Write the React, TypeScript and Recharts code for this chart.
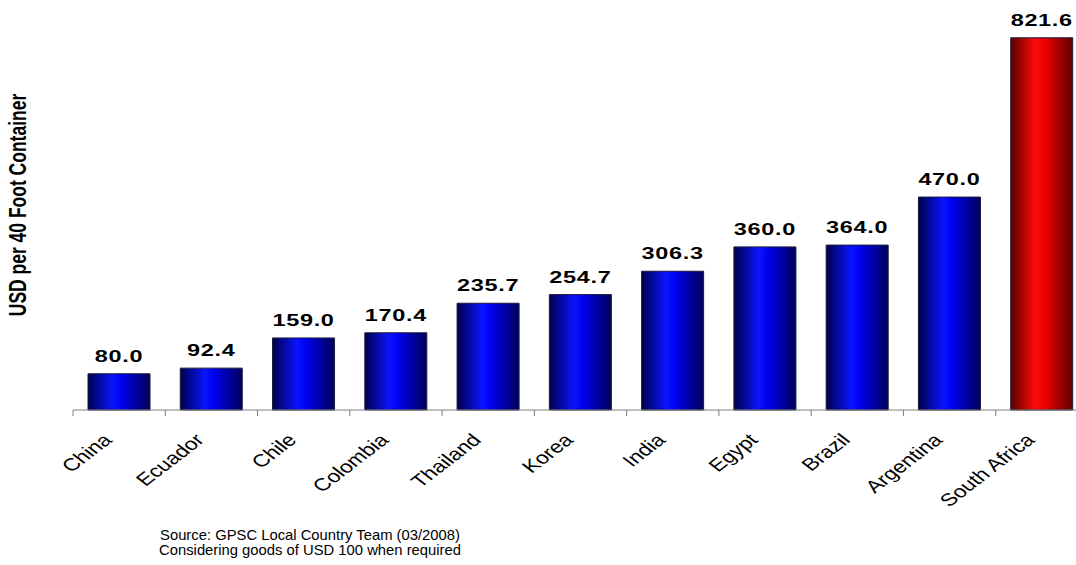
import { BarChart, Bar, XAxis, YAxis, Cell, LabelList } from 'recharts'

const countries = ['China', 'Ecuador', 'Chile', 'Colombia', 'Thailand', 'Korea', 'India', 'Egypt', 'Brazil', 'Argentina', 'South Africa']
const costs = [80.0, 92.4, 159.0, 170.4, 235.7, 254.7, 306.3, 360.0, 364.0, 470.0, 821.6]
const yTitle = 'USD per 40 Foot Container'
const sourceLines = ['Source: GPSC Local Country Team (03/2008)', 'Considering goods of USD 100 when required']
const highlighted = 'South Africa'

const data = countries.map((c, i) => ({ country: c, cost: costs[i] }))

// the original picture is stretched sideways, text too
const STRETCH = 1.38
const TICK_STRETCH = 1.3
const FONT = 'Arial, "Liberation Sans", Helvetica, sans-serif'

const CountryTick = (props: any) => {
  const { x, y, payload } = props
  const half = payload?.offset ?? 46
  return (
    <g>
      <line x1={x - half} x2={x - half} y1={y} y2={y + 6} stroke="#7f7f7f" />
      <text
        transform={`translate(${x - 6},${y + 31}) scale(${TICK_STRETCH},1) rotate(-45)`}
        textAnchor="end"
        fontFamily={FONT}
        fontSize={17.5}
        fill="#000"
      >
        {payload.value}
      </text>
    </g>
  )
}

const ValueLabel = (props: any) => {
  const { x, y, width, value } = props
  const cx = Number(x) + Number(width) / 2
  return (
    <text
      transform={`translate(${cx},${Number(y) - 12}) scale(${STRETCH},1)`}
      textAnchor="middle"
      fontFamily={FONT}
      fontSize={17}
      fontWeight="bold"
      letterSpacing={0.5}
      fill="#000"
    >
      {Number(value).toFixed(1)}
    </text>
  )
}

export default function App() {
  return (
    <div style={{ position: 'absolute', left: 0, top: 0, width: 1076, height: 565, overflow: 'hidden', background: '#fff' }}>
      <BarChart width={1100} height={565} data={data} margin={{ top: 0, right: 12, left: 73, bottom: 0 }}>
        <defs>
          <linearGradient id="blueBar" x1="0" y1="0" x2="1" y2="0">
            <stop offset="0%" stopColor="#00004c" />
            <stop offset="40%" stopColor="#0a14ff" />
            <stop offset="55%" stopColor="#0000ee" />
            <stop offset="100%" stopColor="#000058" />
          </linearGradient>
          <linearGradient id="redBar" x1="0" y1="0" x2="1" y2="0">
            <stop offset="0%" stopColor="#580000" />
            <stop offset="40%" stopColor="#ff0a0a" />
            <stop offset="55%" stopColor="#ee0000" />
            <stop offset="100%" stopColor="#5c0000" />
          </linearGradient>
        </defs>
        <XAxis
          dataKey="country"
          height={155}
          interval={0}
          tickSize={0}
          tickMargin={0}
          tickLine={false}
          axisLine={{ stroke: '#7f7f7f' }}
          tick={<CountryTick />}
        />
        <YAxis hide width={0} domain={[0, 905]} />
        <Bar dataKey="cost" barSize={62} stroke="#1a1a3a" strokeWidth={1} isAnimationActive={false}>
          {data.map(d => (
            <Cell key={d.country} fill={d.country === highlighted ? 'url(#redBar)' : 'url(#blueBar)'} />
          ))}
          <LabelList dataKey="cost" content={<ValueLabel />} />
        </Bar>
      </BarChart>
      <svg width={1076} height={565} style={{ position: 'absolute', left: 0, top: 0, pointerEvents: 'none' }}>
        <text
          transform={`translate(26,205) scale(1.35,1) rotate(-90)`}
          textAnchor="middle"
          fontFamily={FONT}
          fontSize={17.5}
          fontWeight="bold"
          fill="#000"
        >
          {yTitle}
        </text>
        {sourceLines.map((s, i) => (
          <text key={s} x={310} y={540 + i * 15} textAnchor="middle" fontFamily={FONT} fontSize={14.8} fill="#000">
            {s}
          </text>
        ))}
      </svg>
    </div>
  )
}
